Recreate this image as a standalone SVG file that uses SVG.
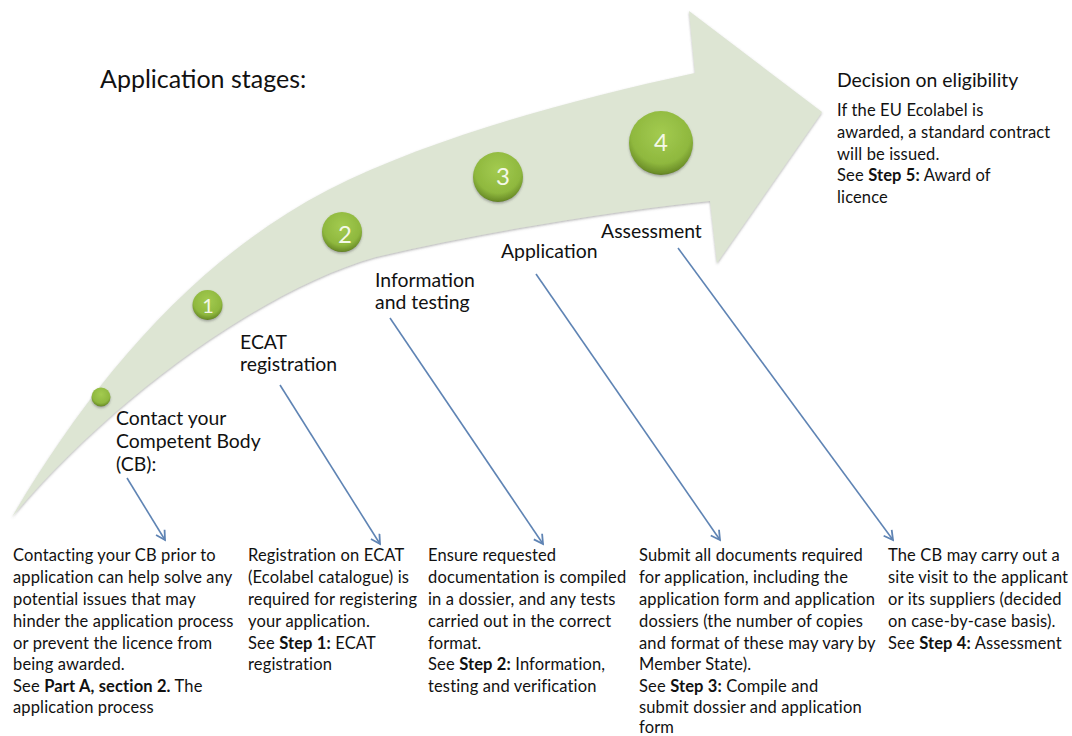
<svg xmlns="http://www.w3.org/2000/svg" width="1072" height="736" viewBox="0 0 1072 736">
<style>
text{font-family:"Lato","Liberation Sans",sans-serif;fill:#111}
.h{font-size:19.4px}
.b{font-size:16.5px;letter-spacing:.14px}
.b tspan.s{font-weight:700}
.n{fill:#f4f8e8;font-size:24px;text-anchor:middle}
.c{fill:none;stroke:#5f84b4;stroke-width:1.6;marker-end:url(#a)}
.d{fill:url(#g);filter:url(#ds)}
</style>
<defs>
<radialGradient id="g" cx="50%" cy="36%" r="66%"><stop offset="0" stop-color="#a3cb50"/><stop offset=".7" stop-color="#8fb83e"/><stop offset=".92" stop-color="#6d9029"/><stop offset="1" stop-color="#566f1f"/></radialGradient>
<filter id="ds" x="-20%" y="-20%" width="140%" height="140%"><feDropShadow dx="0" dy="1.5" stdDeviation="1.2" flood-color="#555" flood-opacity=".45"/></filter>
<filter id="as" x="-5%" y="-5%" width="110%" height="110%"><feDropShadow dx="0" dy="1.2" stdDeviation="1" flood-color="#666" flood-opacity=".5"/></filter>
<marker id="a" viewBox="0 0 12 12" refX="10" refY="6" markerWidth="12" markerHeight="12" markerUnits="userSpaceOnUse" orient="auto"><path d="M1 1L10 6L1 11" fill="none" stroke="#5f84b4" stroke-width="1.8"/></marker>
</defs>
<rect width="1072" height="736" fill="#fff"/>
<g id="arrow"><path d="M12 517C90 385 190 262 328 190C430 138 570 100 695 73L689 11L822 112L717 263L710 201C640 208 500 228 376 257C260 290 110 400 12 517Z" fill="#dde5d3" filter="url(#as)"/></g>
<text x="100" y="88" font-size="25" id="title">Application stages:</text>
<g id="s0"><circle cx="101" cy="397" r="9.5" class="d"/></g>
<g id="s1"><circle cx="207.500" cy="305" r="15" class="d"/><text x="208" y="313" class="n" style="font-size:20px">1</text></g>
<g id="s2"><circle cx="342" cy="232" r="20" class="d"/><text x="345" y="243" class="n">2</text></g>
<g id="s3"><circle cx="498" cy="177" r="25" class="d"/><text x="503" y="185" class="n">3</text></g>
<g id="s4"><circle cx="661" cy="143" r="32" class="d"/><text x="661" y="151" class="n">4</text></g>
<g id="connectors">
<path class="c" d="M127 478L165 540"/>
<path class="c" d="M280 385L380 544"/>
<path class="c" d="M390 318L543 544"/>
<path class="c" d="M536 274L720 540"/>
<path class="c" d="M678 248L893 540"/>
</g>
<g id="l0"><text class="h" x="116" y="425">Contact your</text><text class="h" x="116" y="448">Competent Body</text><text class="h" x="116" y="471">(CB):</text></g>
<g id="l1"><text class="h" x="240" y="349">ECAT</text><text class="h" x="240" y="371">registration</text></g>
<g id="l2"><text class="h" x="375" y="287">Information</text><text class="h" x="375" y="309">and testing</text></g>
<g id="l3"><text class="h" x="501" y="258">Application</text></g>
<g id="l4"><text class="h" x="601" y="238">Assessment</text></g>
<g id="decision"><text class="h" x="837" y="87">Decision on eligibility</text>
<text class="b" x="837" y="116">If the EU Ecolabel is</text><text class="b" x="837" y="138">awarded, a standard contract</text><text class="b" x="837" y="160">will be issued.</text><text class="b" x="837" y="181">See <tspan class="s">Step 5:</tspan> Award of</text><text class="b" x="837" y="203">licence</text></g>
<g id="t0"><text class="b" x="13" y="561">Contacting your CB prior to</text><text class="b" x="13" y="583">application can help solve any</text><text class="b" x="13" y="605">potential issues that may</text><text class="b" x="13" y="627">hinder the application process</text><text class="b" x="13" y="649">or prevent the licence from</text><text class="b" x="13" y="670">being awarded.</text><text class="b" x="13" y="692">See <tspan class="s">Part A, section 2.</tspan> The</text><text class="b" x="13" y="713">application process</text></g>
<g id="t1"><text class="b" x="248" y="561">Registration on ECAT</text><text class="b" x="248" y="583">(Ecolabel catalogue) is</text><text class="b" x="248" y="605">required for registering</text><text class="b" x="248" y="627">your application.</text><text class="b" x="248" y="649">See <tspan class="s">Step 1:</tspan> ECAT</text><text class="b" x="248" y="670">registration</text></g>
<g id="t2"><text class="b" x="428" y="561">Ensure requested</text><text class="b" x="428" y="583">documentation is compiled</text><text class="b" x="428" y="605">in a dossier, and any tests</text><text class="b" x="428" y="627">carried out in the correct</text><text class="b" x="428" y="649">format.</text><text class="b" x="428" y="670">See <tspan class="s">Step 2:</tspan> Information,</text><text class="b" x="428" y="692">testing and verification</text></g>
<g id="t3"><text class="b" x="639" y="561">Submit all documents required</text><text class="b" x="639" y="583">for application, including the</text><text class="b" x="639" y="605">application form and application</text><text class="b" x="639" y="627">dossiers (the number of copies</text><text class="b" x="639" y="649">and format of these may vary by</text><text class="b" x="639" y="670">Member State).</text><text class="b" x="639" y="692">See <tspan class="s">Step 3:</tspan> Compile and</text><text class="b" x="639" y="713">submit dossier and application</text><text class="b" x="639" y="733">form</text></g>
<g id="t4"><text class="b" x="888" y="561">The CB may carry out a</text><text class="b" x="888" y="583">site visit to the applicant</text><text class="b" x="888" y="605">or its suppliers (decided</text><text class="b" x="888" y="627">on case-by-case basis).</text><text class="b" x="888" y="649">See <tspan class="s">Step 4:</tspan> Assessment</text></g>
</svg>
